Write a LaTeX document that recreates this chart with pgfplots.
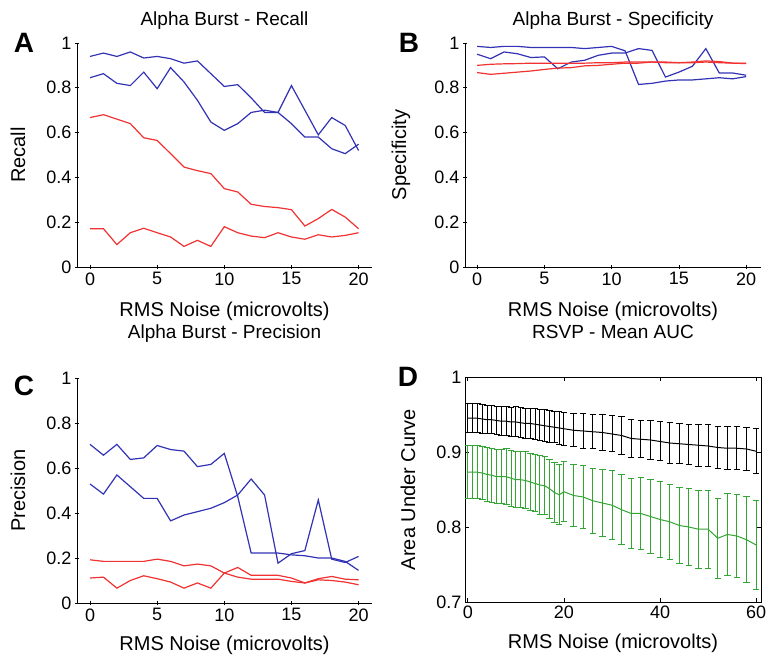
\documentclass[border=0pt]{standalone}
\usepackage{fontspec}
\setmainfont{Liberation Sans}
\usepackage{pgfplots}
\usepackage{pgfplotstable}
\pgfplotsset{compat=1.18}

\definecolor{mblue}{RGB}{50,50,180}
\definecolor{mred}{RGB}{240,50,50}
\definecolor{mgreen}{RGB}{50,165,50}

% Alpha burst recall
\pgfplotstableread{
x b1 b2 r1 r2
0 0.940 0.845 0.667 0.171
1 0.955 0.863 0.680 0.171
2 0.940 0.820 0.660 0.100
3 0.960 0.810 0.640 0.153
4 0.933 0.870 0.577 0.173
5 0.940 0.796 0.565 0.153
6 0.930 0.890 0.506 0.134
7 0.910 0.826 0.446 0.092
8 0.920 0.744 0.430 0.119
9 0.863 0.647 0.417 0.092
10 0.806 0.610 0.350 0.180
11 0.814 0.640 0.335 0.153
12 0.755 0.690 0.280 0.138
13 0.690 0.700 0.270 0.131
14 0.690 0.690 0.265 0.153
15 0.640 0.810 0.256 0.134
16 0.580 0.700 0.183 0.124
17 0.580 0.590 0.216 0.144
18 0.528 0.667 0.257 0.134
19 0.506 0.632 0.223 0.141
20 0.548 0.520 0.171 0.153
}\recall

% Alpha burst specificity
\pgfplotstableread{
x b1 b2 r1 r2
0 0.985 0.950 0.900 0.868
1 0.980 0.930 0.905 0.860
2 0.985 0.960 0.907 0.865
3 0.985 0.952 0.908 0.870
4 0.980 0.935 0.910 0.875
5 0.980 0.938 0.910 0.882
6 0.980 0.885 0.910 0.888
7 0.980 0.915 0.910 0.890
8 0.975 0.923 0.910 0.898
9 0.980 0.945 0.912 0.900
10 0.985 0.955 0.912 0.905
11 0.965 0.955 0.915 0.910
12 0.815 0.975 0.915 0.910
13 0.820 0.967 0.915 0.915
14 0.830 0.848 0.912 0.915
15 0.835 0.870 0.912 0.912
16 0.835 0.896 0.912 0.915
17 0.840 0.975 0.915 0.920
18 0.845 0.866 0.912 0.917
19 0.840 0.866 0.910 0.910
20 0.850 0.856 0.908 0.910
}\spec

% Alpha burst precision
\pgfplotstableread{
x b1 b2 r1 r2
0 0.705 0.529 0.192 0.111
1 0.657 0.484 0.185 0.115
2 0.705 0.569 0.185 0.066
3 0.638 0.517 0.185 0.100
4 0.645 0.465 0.185 0.121
5 0.700 0.465 0.195 0.108
6 0.682 0.365 0.185 0.093
7 0.675 0.391 0.165 0.066
8 0.606 0.406 0.173 0.089
9 0.616 0.421 0.165 0.066
10 0.665 0.446 0.133 0.133
11 0.473 0.480 0.115 0.158
12 0.222 0.551 0.106 0.123
13 0.222 0.480 0.106 0.123
14 0.222 0.177 0.106 0.123
15 0.214 0.219 0.096 0.111
16 0.210 0.233 0.089 0.089
17 0.200 0.458 0.103 0.108
18 0.200 0.195 0.100 0.118
19 0.185 0.180 0.093 0.106
20 0.145 0.207 0.081 0.103
}\prec

% RSVP mean AUC with error
\pgfplotstableread{
x k ke g ge
0 0.945 0.019 0.873 0.035
1 0.945 0.019 0.873 0.035
2 0.945 0.019 0.873 0.035
3 0.944 0.019 0.872 0.035
4 0.943 0.019 0.870 0.036
5 0.943 0.019 0.869 0.036
6 0.942 0.019 0.867 0.036
7 0.941 0.019 0.867 0.036
8 0.941 0.019 0.867 0.037
9 0.940 0.019 0.865 0.037
10 0.940 0.020 0.863 0.037
11 0.939 0.020 0.863 0.037
12 0.938 0.020 0.862 0.038
13 0.938 0.020 0.860 0.038
14 0.937 0.021 0.858 0.038
15 0.936 0.021 0.856 0.039
16 0.935 0.021 0.855 0.039
17 0.934 0.021 0.851 0.039
18 0.933 0.021 0.846 0.040
19 0.932 0.022 0.843 0.040
20 0.931 0.022 0.847 0.040
22 0.929 0.022 0.842 0.041
24 0.928 0.023 0.840 0.042
26 0.927 0.023 0.835 0.043
28 0.926 0.024 0.832 0.044
30 0.924 0.024 0.829 0.046
32 0.922 0.025 0.823 0.047
34 0.918 0.025 0.818 0.047
36 0.917 0.025 0.818 0.048
38 0.916 0.026 0.814 0.049
40 0.914 0.026 0.810 0.050
42 0.912 0.027 0.807 0.050
44 0.911 0.027 0.802 0.051
46 0.910 0.027 0.800 0.051
48 0.909 0.028 0.797 0.052
50 0.908 0.028 0.797 0.052
52 0.906 0.028 0.785 0.053
54 0.905 0.029 0.790 0.054
56 0.905 0.029 0.788 0.055
58 0.904 0.029 0.783 0.057
60 0.901 0.030 0.776 0.059
}\auc

\pgfplotsset{
  panel/.style={
    scale only axis,
    anchor=south west,
    tick align=inside,
    major tick length=4pt,
    tick style={black, line width=0.8pt},
    every tick label/.append style={font=\fontsize{18}{18}\selectfont},
    /pgf/number format/assume math mode=true,
    label style={font=\fontsize{20}{20}\selectfont},
    title style={font=\fontsize{19}{19}\selectfont, anchor=base},
    ylabel style={anchor=center, rotate=0},
    xlabel style={anchor=center},
    every axis plot/.append style={line width=1.2pt},
  },
  ab/.style={
    panel,
    axis lines=left,
    axis line style={-, black, line width=0.9pt},
    every outer x axis line/.append style={-},
    every outer y axis line/.append style={-},
    width=295pt, height=224pt,
    xmin=-0.97, xmax=21,
    ymin=0, ymax=1,
    xtick={0,5,10,15,20},
    ytick={0,0.2,0.4,0.6,0.8,1},
  },
}

\begin{document}
\begin{tikzpicture}[x=1pt,y=1pt]
\path[use as bounding box] (0,0) rectangle (766,659);

% A
\begin{axis}[ab, at={(77pt,392pt)},
  title={Alpha Burst - Recall},
  title style={at={(axis description cs:0.5,1)}, yshift=11pt},
  xlabel={RMS Noise (microvolts)},
  xlabel style={at={(axis description cs:0.5,-0.2)}},
  ylabel={Recall},
  ylabel style={at={(axis description cs:-0.2,0.5)}},
]
\addplot[mblue] table[x=x,y=b1] {\recall};
\addplot[mblue] table[x=x,y=b2] {\recall};
\addplot[mred] table[x=x,y=r1] {\recall};
\addplot[mred] table[x=x,y=r2] {\recall};
\end{axis}

% B
\begin{axis}[ab, at={(465pt,392pt)}, width=296pt,
  xmin=-0.9, xmax=21.1,
  title={Alpha Burst - Specificity},
  title style={at={(axis description cs:0.5,1)}, yshift=11pt},
  xlabel={RMS Noise (microvolts)},
  xlabel style={at={(axis description cs:0.5,-0.2)}},
  ylabel={Specificity},
  ylabel style={at={(axis description cs:-0.216,0.5)}},
]
\addplot[mblue] table[x=x,y=b1] {\spec};
\addplot[mblue] table[x=x,y=b2] {\spec};
\addplot[mred] table[x=x,y=r1] {\spec};
\addplot[mred] table[x=x,y=r2] {\spec};
\end{axis}

% C
\begin{axis}[ab, at={(77pt,56pt)}, height=225pt,
  title={Alpha Burst - Precision},
  title style={at={(axis description cs:0.5,1)}, yshift=33pt},
  xlabel={RMS Noise (microvolts)},
  xlabel style={at={(axis description cs:0.5,-0.19)}},
  ylabel={Precision},
  ylabel style={at={(axis description cs:-0.2,0.5)}},
]
\addplot[mblue] table[x=x,y=b1] {\prec};
\addplot[mblue] table[x=x,y=b2] {\prec};
\addplot[mred] table[x=x,y=r1] {\prec};
\addplot[mred] table[x=x,y=r2] {\prec};
\end{axis}

% D
\begin{axis}[panel, at={(465pt,57pt)},
  axis line style={black, line width=0.9pt},
  width=296pt, height=225pt,
  xmin=-0.6, xmax=61,
  ymin=0.7, ymax=1,
  xtick={0,20,40,60},
  ytick={0.7,0.8,0.9,1},
  title={RSVP - Mean AUC},
  title style={at={(axis description cs:0.5,1)}, yshift=32pt},
  xlabel={RMS Noise (microvolts)},
  xlabel style={at={(axis description cs:0.5,-0.183)}},
  ylabel={Area Under Curve},
  ylabel style={at={(axis description cs:-0.193,0.5)}},
]
\addplot[black, line width=1pt,
  error bars/.cd, y dir=both, y explicit,
  error bar style={line width=1pt, black},
  error mark options={rotate=90, mark size=3.2pt, line width=1pt, black}]
  table[x=x, y=k, y error=ke] {\auc};
\addplot[mgreen, line width=1pt,
  error bars/.cd, y dir=both, y explicit,
  error bar style={line width=1pt, mgreen},
  error mark options={rotate=90, mark size=3.2pt, line width=1pt, mgreen}]
  table[x=x, y=g, y error=ge] {\auc};
\end{axis}

\node[font=\fontsize{28}{28}\selectfont\bfseries] at (24,616) {A};
\node[font=\fontsize{28}{28}\selectfont\bfseries] at (409,616) {B};
\node[font=\fontsize{28}{28}\selectfont\bfseries] at (24,273) {C};
\node[font=\fontsize{28}{28}\selectfont\bfseries] at (408,282) {D};
\end{tikzpicture}
\end{document}
